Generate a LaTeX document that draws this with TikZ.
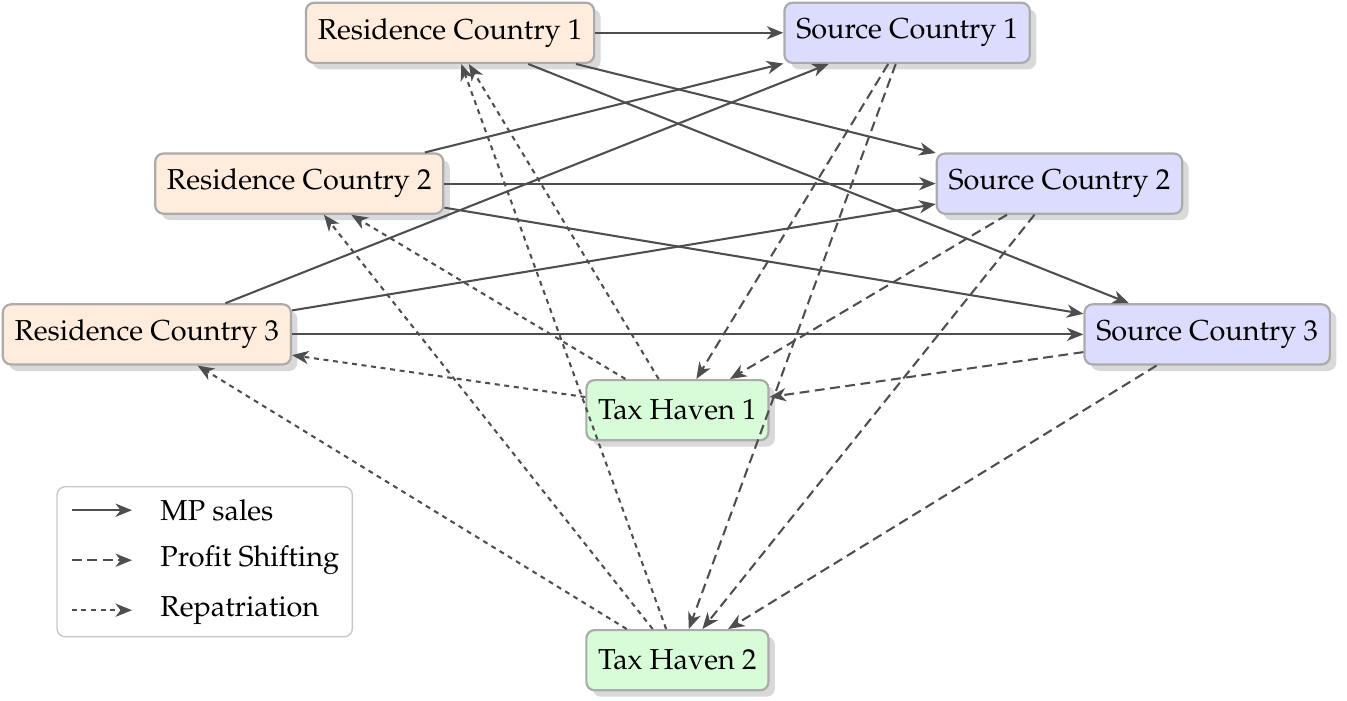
\documentclass[tikz,border=0pt]{standalone}
\usepackage[T1]{fontenc}
\usepackage{mathpazo}
\usepackage{xcolor}
\usetikzlibrary{shapes.geometric, arrows, arrows.meta, shadows}
\definecolor{resfill}{RGB}{255,236,220}
\definecolor{srcfill}{RGB}{220,220,255}
\definecolor{havfill}{RGB}{216,252,216}
\definecolor{edgegray}{RGB}{78,78,78}
\tikzstyle{country} = [rectangle, rounded corners=3pt, minimum height=0.77cm, inner xsep=4.3pt, text centered, draw=black!33, line width=0.8pt, drop shadow={opacity=0.3}]
\tikzstyle{resid} = [country, fill=resfill]
\tikzstyle{source} = [country, fill=srcfill]
\tikzstyle{haven} = [country, fill=havfill]
\tikzstyle{sales} = [draw=edgegray, line width=0.75pt, ->, >={Stealth[length=6pt, width=4.8pt, inset=1.8pt]}]
\tikzstyle{profit} = [sales, dash pattern=on 3.6pt off 2pt]
\tikzstyle{repat} = [sales, dash pattern=on 1.8pt off 1.7pt]

\begin{document}
\begin{tikzpicture}[node distance=1.93cm, font=\fontsize{10.5pt}{12.6pt}\selectfont]
    \useasboundingbox (0,0) rectangle (17.24,-8.96);
    \node (res1) [resid] at (5.76,-0.42) {Residence Country 1};
    \node (src1) [source, right of=res1, xshift=3.92cm] {Source Country 1};
    \node (res2) [resid, below of=res1, xshift=-1.93cm] {Residence Country 2};
    \node (src2) [source, below of=src1, xshift=1.95cm] {Source Country 2};
    \node (res3) [resid, below of=res2, xshift=-1.95cm] {Residence Country 3};
    \node (src3) [source, below of=src2, xshift=1.89cm] {Source Country 3};
    \node (hav1) [haven, below of=res3, xshift=6.79cm, yshift=0.96cm] {Tax Haven 1};
    \node (hav2) [haven, below of=hav1, yshift=-1.27cm] {Tax Haven 2};

    % MP sales
    \draw [sales] (res1) -- (src1);
    \draw [sales] (res1) -- (src2);
    \draw [sales] (res1) -- (src3);
    \draw [sales] (res2) -- (src1);
    \draw [sales] (res2) -- (src2);
    \draw [sales] (res2) -- (src3);
    \draw [sales] (res3) -- (src1);
    \draw [sales] (res3) -- (src2);
    \draw [sales] (res3) -- (src3);

    % profit shifting
    \draw [profit] (src1) -- (hav1);
    \draw [profit] (src1) -- (hav2);
    \draw [profit] (src2) -- (hav1);
    \draw [profit] (src2) -- (hav2);
    \draw [profit] (src3) -- (hav1);
    \draw [profit] (src3) -- (hav2);

    % repatriation
    \draw [repat] (hav1) -- (res1);
    \draw [repat] (hav1) -- (res2);
    \draw [repat] (hav1) -- (res3);
    \draw [repat] (hav2) -- (res1);
    \draw [repat] (hav2) -- (res2);
    \draw [repat] (hav2) -- (res3);

    % legend
    \node (legend) [draw=black!22, rounded corners=3pt, line width=0.5pt, minimum width=3.78cm, minimum height=1.92cm] at (2.62,-7.19) {};
    \coordinate (ls1) at (0.92,-6.53);
    \coordinate (le1) at (1.69,-6.53);
    \coordinate (ls2) at (0.92,-7.17);
    \coordinate (le2) at (1.69,-7.17);
    \coordinate (ls3) at (0.92,-7.81);
    \coordinate (le3) at (1.69,-7.81);
    \draw [sales] (ls1) -- (le1);
    \draw [profit] (ls2) -- (le2);
    \draw [repat] (ls3) -- (le3);
    \node (lab1) [anchor=west] at (1.93,-6.53) {MP sales};
    \node (lab2) [anchor=west] at (1.93,-7.17) {Profit Shifting};
    \node (lab3) [anchor=west] at (1.93,-7.81) {Repatriation};
\end{tikzpicture}
\end{document}
